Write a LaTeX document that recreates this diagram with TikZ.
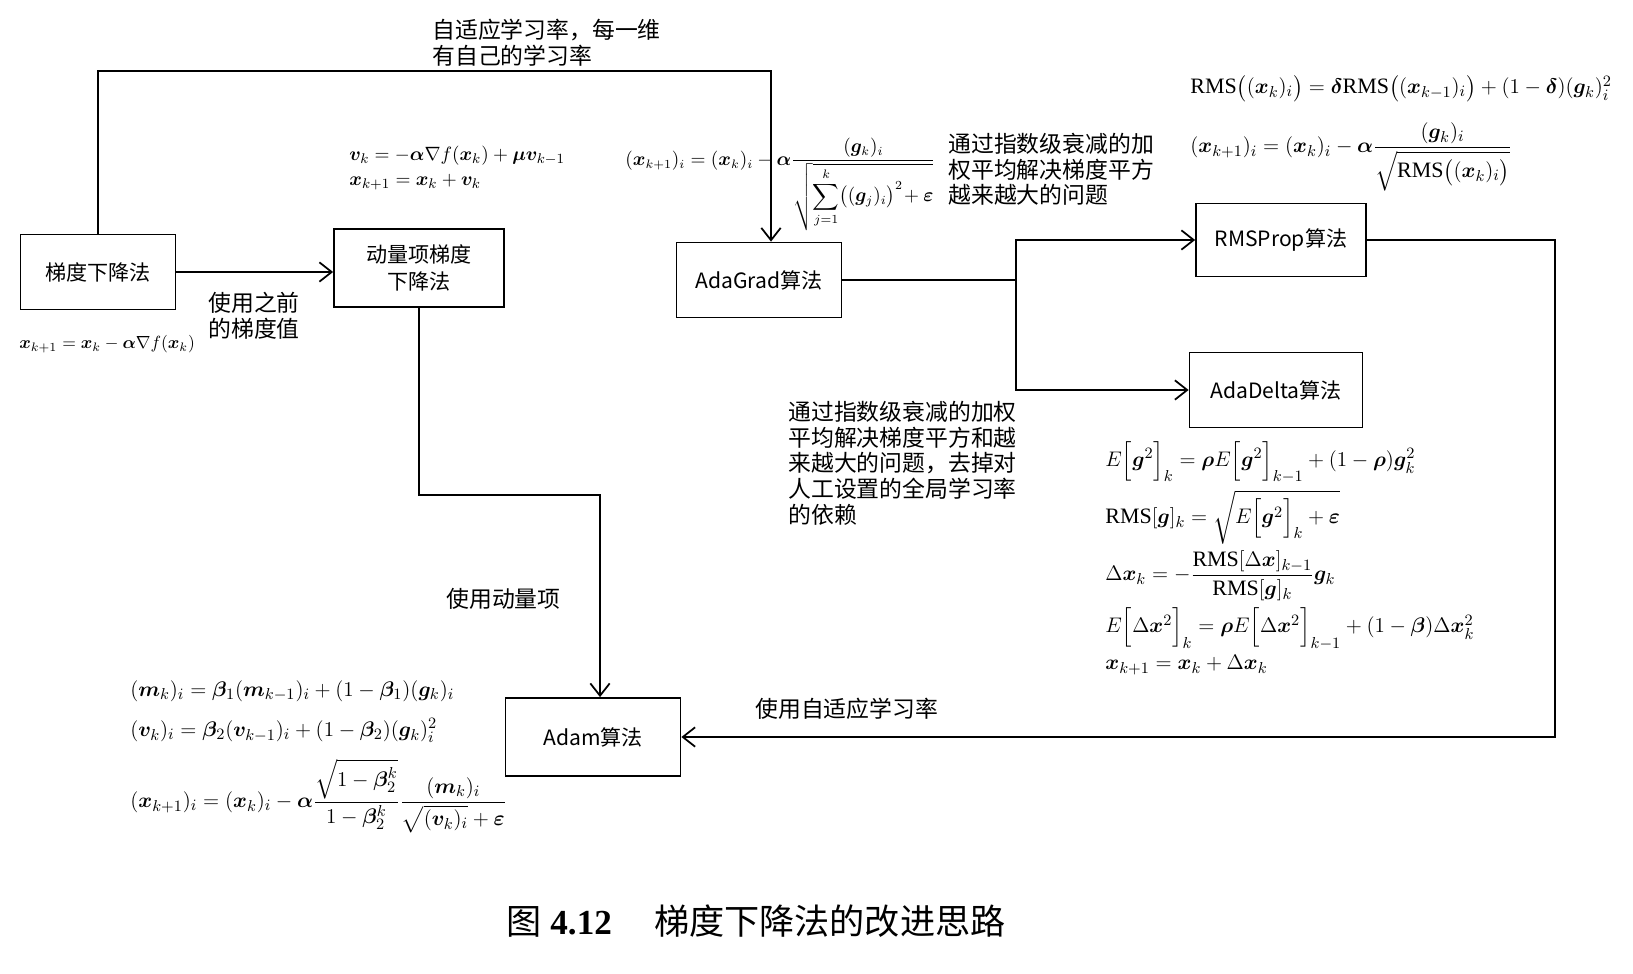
\documentclass[tikz,border=0pt]{standalone}
\usepackage{amsmath,amssymb}
\usepackage{bm}
\usepackage{fontspec}
\setmainfont{Liberation Serif}
\newfontfamily\cjk{Noto Sans CJK SC}
\usepackage{tikz}
\usetikzlibrary{
  arrows.meta,
  positioning
}
\tikzset{
  algbox/.style={draw, line width=1pt, fill=white,
    minimum width=3.3cm, minimum height=1.5cm,
    align=center, font=\cjk\fontsize{12}{15}\selectfont},
  lbl/.style={align=left, inner sep=0pt,
    font=\cjk\fontsize{13}{14.6}\selectfont},
  eqn/.style={align=left, inner sep=0pt,
    font=\fontsize{12.5}{15}\selectfont},
  line/.style={line width=1pt},
  arr/.style={-{Straight Barb[length=7pt,width=11pt]}, line width=1pt},
}
\newcommand{\vecx}{\boldsymbol{x}}
\newcommand{\vecg}{\boldsymbol{g}}
\newcommand{\vecv}{\boldsymbol{v}}
\newcommand{\vecm}{\boldsymbol{m}}
\newcommand{\RMS}{\mathrm{RMS}}

\begin{document}
\begin{tikzpicture}
  \useasboundingbox (0,0) rectangle (32.66,-19.46);

  % algorithm boxes
  \node[algbox, minimum width=3.1cm] (gd) at (1.96,-5.44) {梯度下降法};
  \node[algbox, minimum width=3.4cm, minimum height=1.56cm] (mom) at (8.38,-5.36)
    {动量项梯度\\下降法};
  \node[algbox] (adagrad) at (15.18,-5.6) {AdaGrad算法};
  \node[algbox, minimum width=3.4cm, minimum height=1.46cm] (rmsprop) at (25.62,-4.8)
    {RMSProp算法};
  \node[algbox, minimum width=3.46cm] (adadelta) at (25.52,-7.8) {AdaDelta算法};
  \node[algbox, minimum width=3.5cm, minimum height=1.56cm] (adam) at (11.86,-14.74)
    {Adam算法};

  % connectors
  \coordinate (topright) at (15.42,-1.42);
  \coordinate (split) at (20.32,-5.6);
  \coordinate (momturn) at (12.0,-9.9);
  \coordinate (rcorner) at (31.1,-4.8);

  \draw[arr] (gd.north) |- (topright) -- (topright |- adagrad.north);
  \draw[arr] (gd.east) -- (gd.east -| mom.west);
  \draw[arr] (mom.south) |- (momturn) -- (momturn |- adam.north);
  \draw[line] (adagrad.east) -- (split);
  \draw[arr] (split) |- (rmsprop.west);
  \draw[arr] (split) |- (adadelta.west);
  \draw[arr] (rmsprop.east) -- (rcorner) |- (adam.east);

  % connector labels
  \node[lbl, anchor=north west] (toplbl) at (8.64,-0.38)
    {自适应学习率，每一维\\有自己的学习率};
  \node[lbl, align=center, anchor=north west] (prevlbl) at (4.16,-5.84)
    {使用之前\\的梯度值};
  \node[lbl, anchor=north west] (momlbl) at (8.92,-11.76) {使用动量项};
  \node[lbl, anchor=north west] (adaptlbl) at (15.1,-13.96) {使用自适应学习率};
  \node[lbl, anchor=north west] (adagradtxt) at (18.96,-2.66)
    {通过指数级衰减的加\\权平均解决梯度平方\\越来越大的问题};
  \node[lbl, anchor=north west] (adadeltatxt) at (15.76,-8.02)
    {通过指数级衰减的加权\\平均解决梯度平方和越\\来越大的问题，去掉对\\人工设置的全局学习率\\的依赖};

  % update rules
  \node[eqn, font=\fontsize{10}{12}\selectfont, anchor=west] (gdeq) at (0.38,-6.88)
    {$\vecx_{k+1}=\vecx_k-\boldsymbol{\alpha}\nabla f(\vecx_k)$};
  \node[eqn, font=\fontsize{11}{14}\selectfont, anchor=north west] (momeq) at (6.98,-2.92)
    {$\vecv_k=-\boldsymbol{\alpha}\nabla f(\vecx_k)+\boldsymbol{\mu}\vecv_{k-1}$\\
     $\vecx_{k+1}=\vecx_k+\vecv_k$};
  \node[eqn, font=\fontsize{10.5}{13}\selectfont, anchor=north west] (adagradeq) at (12.5,-2.75)
    {$\displaystyle(\vecx_{k+1})_i=(\vecx_k)_i-\boldsymbol{\alpha}
      \frac{(\vecg_k)_i}{\sqrt{\displaystyle\sum_{j=1}^{k}\bigl((\vecg_j)_i\bigr)^2\!+\boldsymbol{\varepsilon}}}$};
  \node[eqn, anchor=north west] (rmseq1) at (23.8,-1.5)
    {$\RMS\bigl((\vecx_k)_i\bigr)=\boldsymbol{\delta}\RMS\bigl((\vecx_{k-1})_i\bigr)
      +(1-\boldsymbol{\delta})(\vecg_k)_i^2$};
  \node[eqn, anchor=north west] (rmseq2) at (23.8,-2.45)
    {$\displaystyle(\vecx_{k+1})_i=(\vecx_k)_i-\boldsymbol{\alpha}
      \frac{(\vecg_k)_i}{\sqrt{\RMS\bigl((\vecx_k)_i\bigr)}}$};
  \node[eqn, anchor=north west] (adadeltaeq) at (22.1,-8.82)
    {$E\Bigl[\vecg^2\Bigr]_k=\boldsymbol{\rho}E\Bigl[\vecg^2\Bigr]_{k-1}+(1-\boldsymbol{\rho})\vecg_k^2$\\[3pt]
     $\RMS[\vecg]_k=\sqrt{E\Bigl[\vecg^2\Bigr]_k+\boldsymbol{\varepsilon}}$\\[3pt]
     $\Delta\vecx_k=-\dfrac{\RMS[\Delta\vecx]_{k-1}}{\RMS[\vecg]_k}\vecg_k$\\[3pt]
     $E\Bigl[\Delta\vecx^2\Bigr]_k=\boldsymbol{\rho}E\Bigl[\Delta\vecx^2\Bigr]_{k-1}+(1-\boldsymbol{\beta})\Delta\vecx_k^2$\\[2pt]
     $\vecx_{k+1}=\vecx_k+\Delta\vecx_k$};
  \node[eqn, anchor=north west] (adameq) at (2.6,-13.6)
    {$(\vecm_k)_i=\boldsymbol{\beta}_1(\vecm_{k-1})_i+(1-\boldsymbol{\beta}_1)(\vecg_k)_i$\\[8pt]
     $(\vecv_k)_i=\boldsymbol{\beta}_2(\vecv_{k-1})_i+(1-\boldsymbol{\beta}_2)(\vecg_k)_i^2$\\[8pt]
     $(\vecx_{k+1})_i=(\vecx_k)_i-\boldsymbol{\alpha}
      \dfrac{\sqrt{1-\boldsymbol{\beta}_2^k}}{1-\boldsymbol{\beta}_2^k}
      \dfrac{(\vecm_k)_i}{\sqrt{(\vecv_k)_i}+\boldsymbol{\varepsilon}}$};

  % caption
  \node[font=\fontsize{20}{23}\selectfont] (caption) at (15.12,-18.42)
    {{\cjk 图} \textbf{4.12}\hspace{1.2em}{\cjk 梯度下降法的改进思路}};
\end{tikzpicture}
\end{document}
